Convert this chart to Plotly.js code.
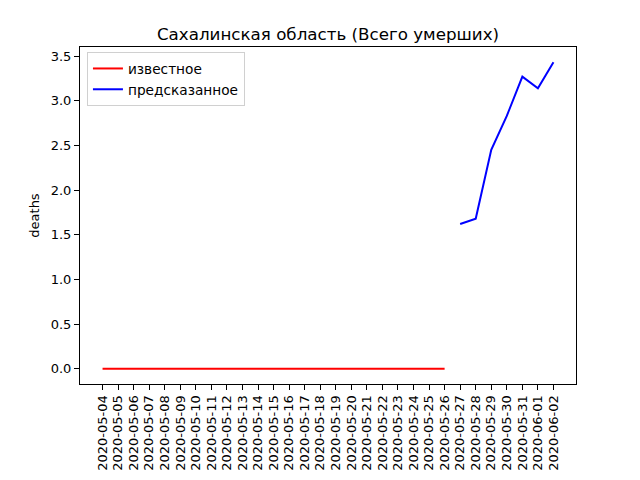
<!DOCTYPE html>
<html>
<head>
<meta charset="utf-8">
<script src="https://cdn.plot.ly/plotly-3.0.1.min.js"></script>
<style>html,body{margin:0;padding:0;background:#fff;}#chart{width:640px;height:480px;}</style>
</head>
<body>
<div id="chart"></div>
<script>
const knownDates = ["2020-05-04","2020-05-05","2020-05-06","2020-05-07","2020-05-08","2020-05-09","2020-05-10","2020-05-11","2020-05-12","2020-05-13","2020-05-14","2020-05-15","2020-05-16","2020-05-17","2020-05-18","2020-05-19","2020-05-20","2020-05-21","2020-05-22","2020-05-23","2020-05-24","2020-05-25","2020-05-26"];
const knownValues = [0,0,0,0,0,0,0,0,0,0,0,0,0,0,0,0,0,0,0,0,0,0,0];
const predDates = ["2020-05-27","2020-05-28","2020-05-29","2020-05-30","2020-05-31","2020-06-01","2020-06-02"];
const predValues = [1.62,1.68,2.45,2.83,3.27,3.14,3.43];
const allDates = knownDates.concat(predDates);
const yTicks = [0,0.5,1,1.5,2,2.5,3,3.5];
const yTickText = ["0.0","0.5","1.0","1.5","2.0","2.5","3.0","3.5"];

const font = {family: "DejaVu Sans", color: "#000"};
const traces = [
  {x: knownDates, y: knownValues, mode: "lines", name: "известное", line: {color: "red", width: 2}},
  {x: predDates, y: predValues, mode: "lines", name: "предсказанное", line: {color: "blue", width: 2}}
];
const n = allDates.length;
const ymax = Math.max(...predValues);
const pad = ymax * 0.05;
const layout = {
  width: 640, height: 480,
  margin: {l: 80, r: 64, t: 47, b: 96},
  paper_bgcolor: "#fff", plot_bgcolor: "#fff",
  font: Object.assign({size: 13}, font),
  title: {text: "Сахалинская область (Всего умерших)", font: Object.assign({size: 16.7}, font), xref: "paper", x: 0.5, xanchor: "center", y: 1 - 34/480, yanchor: "middle"},
  showlegend: true,
  legend: {x: 0.014, y: 0.985, xanchor: "left", yanchor: "top", bgcolor: "rgba(255,255,255,0.8)", bordercolor: "#d0d0d0", borderwidth: 1, font: Object.assign({size: 13.7}, font), tracegroupgap: 0},
  xaxis: {
    type: "category", categoryorder: "array", categoryarray: allDates,
    range: [-0.05*(n-1) , (n-1)*1.05],
    tickmode: "array", tickvals: allDates, ticktext: allDates,
    tickangle: -90, ticks: "outside", ticklen: 5, tickwidth: 1, tickcolor: "#000",
    showgrid: false, zeroline: false, showline: true, linecolor: "#000", linewidth: 1, mirror: true,
    tickfont: Object.assign({size: 13}, font), fixedrange: true
  },
  yaxis: {
    range: [-pad, ymax + pad],
    tickmode: "array", tickvals: yTicks, ticktext: yTickText,
    ticks: "outside", ticklen: 5, tickwidth: 1, tickcolor: "#000",
    showgrid: false, zeroline: false, showline: true, linecolor: "#000", linewidth: 1, mirror: true,
    title: {text: "deaths", font: Object.assign({size: 13}, font), standoff: 8},
    tickfont: Object.assign({size: 13}, font), fixedrange: true
  }
};
Plotly.newPlot("chart", traces, layout, {staticPlot: true, displayModeBar: false});
</script>
</body>
</html>
